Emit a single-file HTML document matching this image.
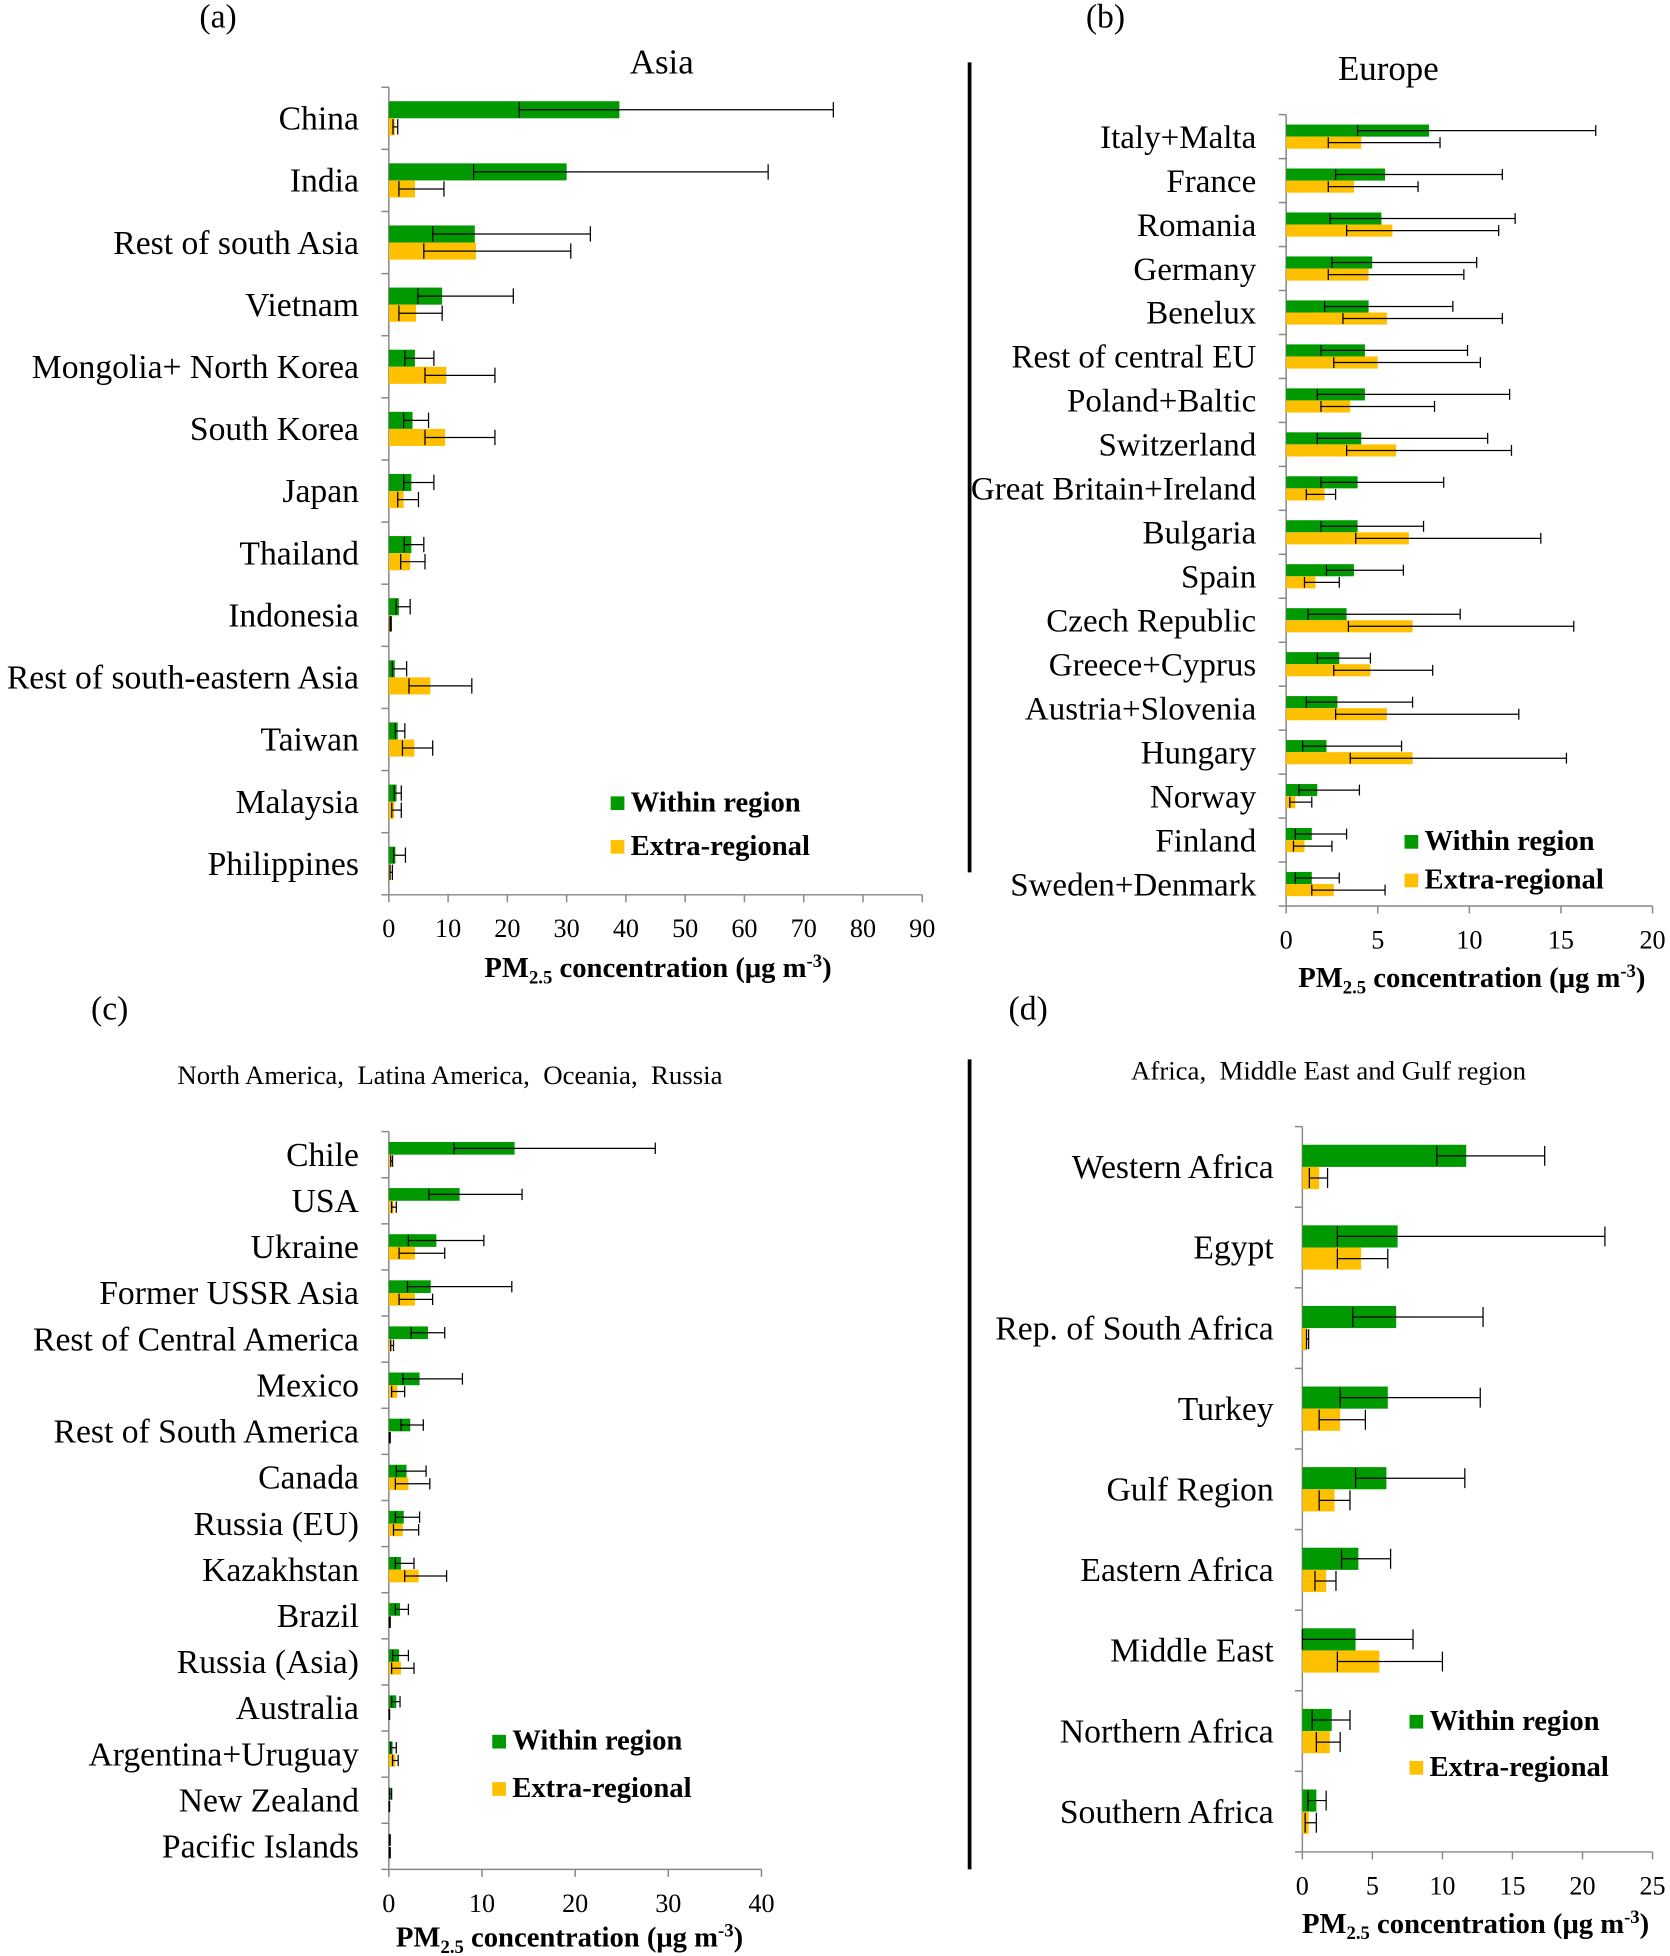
<!DOCTYPE html>
<html><head><meta charset="utf-8"><style>
html,body{margin:0;padding:0;background:#fff;}
svg{display:block;font-family:"Liberation Serif",serif;}
text{white-space:pre;}
</style></head><body>
<svg id="chart" width="1670" height="1956" viewBox="0 0 1340 1569.5" xmlns="http://www.w3.org/2000/svg"></svg>
<script>
// Panel (a) Asia
const asiaCats = ["China","India","Rest of south Asia","Vietnam","Mongolia+ North Korea","South Korea","Japan","Thailand","Indonesia","Rest of south-eastern Asia","Taiwan","Malaysia","Philippines"];
const asiaWithin = [38.9,30,14.5,9,4.4,4,3.8,3.8,1.7,1,1.5,1.3,1.1];
const asiaWithinLo = [22,14.3,7.4,4.9,2.7,2.5,2.5,2.6,1.2,0.6,1.1,0.9,0.8];
const asiaWithinHi = [75,64,34,21,7.6,6.7,7.6,5.9,3.6,3,2.7,2.1,2.8];
const asiaExtra = [1,4.4,14.7,4.6,9.7,9.5,2.5,3.6,0.3,7,4.3,0.9,0.3];
const asiaExtraLo = [0.7,1.7,5.9,1.7,6.1,6.1,1.5,2,0.2,3.4,2.3,0.5,0.2];
const asiaExtraHi = [1.5,9.3,30.7,9,17.9,17.9,5,6.1,0.4,14,7.4,2.1,0.6];
const asiaTicks = [0,10,20,30,40,50,60,70,80,90];
// Panel (b) Europe
const euCats = ["Italy+Malta","France","Romania","Germany","Benelux","Rest of central EU","Poland+Baltic","Switzerland","Great Britain+Ireland","Bulgaria","Spain","Czech Republic","Greece+Cyprus","Austria+Slovenia","Hungary","Norway","Finland","Sweden+Denmark"];
const euWithin = [7.8,5.4,5.2,4.7,4.5,4.3,4.3,4.1,3.9,3.9,3.7,3.3,2.9,2.8,2.2,1.7,1.4,1.4];
const euWithinLo = [3.9,2.7,2.4,2.5,2.1,1.9,1.7,1.7,1.9,1.9,2.2,1.2,1.7,1.1,0.9,0.7,0.5,0.5];
const euWithinHi = [16.9,11.8,12.5,10.4,9.1,9.9,12.2,11,8.6,7.5,6.4,9.5,4.6,6.9,6.3,4,3.3,2.9];
const euExtra = [4.1,3.7,5.8,4.5,5.5,5,3.5,6,2.1,6.7,1.6,6.9,4.6,5.5,6.9,0.5,1,2.6];
const euExtraLo = [2.3,2.3,3.3,2.3,3.1,2.6,1.9,3.3,1.1,3.8,1,3.4,2.6,2.7,3.5,0.2,0.4,1.4];
const euExtraHi = [8.4,7.2,11.6,9.7,11.8,10.6,8.1,12.3,2.7,13.9,2.9,15.7,8,12.7,15.3,1.4,2.5,5.4];
const euTicks = [0,5,10,15,20];
// Panel (c) Americas, Oceania, Russia
const amCats = ["Chile","USA","Ukraine","Former USSR Asia","Rest of Central America","Mexico","Rest of South America","Canada","Russia (EU)","Kazakhstan","Brazil","Russia (Asia)","Australia","Argentina+Uruguay","New Zealand","Pacific Islands"];
const amWithin = [13.5,7.6,5.1,4.5,4.2,3.3,2.3,1.9,1.6,1.3,1.2,1.1,0.8,0.4,0.2,0.1];
const amWithinLo = [7,4.3,2.1,2,2.4,1.5,1.3,0.8,0.7,0.7,0.7,0.4,0.3,0.2,0.1,0.05];
const amWithinHi = [28.6,14.3,10.2,13.2,6,7.9,3.7,4,3.3,2.7,2.1,2.1,1.2,0.8,0.3,0.15];
const amExtra = [0.3,0.5,2.8,2.8,0.3,0.9,0.1,2.1,1.5,3.2,0.1,1.3,0.05,0.7,0.05,0.1];
const amExtraLo = [0.2,0.3,1.1,1.1,0.2,0.3,0.05,0.7,0.5,1.7,0.05,0.3,0.03,0.4,0.03,0.05];
const amExtraHi = [0.4,0.8,6,4.7,0.5,1.7,0.15,4.4,3.2,6.2,0.15,2.7,0.08,1,0.08,0.15];
const amTicks = [0,10,20,30,40];
// Panel (d) Africa, Middle East, Gulf
const afCats = ["Western Africa","Egypt","Rep. of South Africa","Turkey","Gulf Region","Eastern Africa","Middle East","Northern Africa","Southern Africa"];
const afWithin = [11.7,6.8,6.7,6.1,6,4,3.8,2.1,1];
const afWithinLo = [9.6,2.5,3.6,2.7,3.8,2.8,0,0.7,0.4];
const afWithinHi = [17.3,21.6,12.9,12.7,11.6,6.3,7.9,3.4,1.7];
const afExtra = [1.2,4.2,0.35,2.7,2.3,1.7,5.5,1.96,0.45];
const afExtraLo = [0.5,2.5,0.3,1.2,1.2,0.9,2.5,1,0.2];
const afExtraHi = [1.8,6.1,0.45,4.5,3.4,2.4,10,2.7,1];
const afTicks = [0,5,10,15,20,25];

const NS="http://www.w3.org/2000/svg";
const svg=document.getElementById('chart');
const GREEN="#009900", YELLOW="#FFC000";
function mk(tag,attrs,parent){const e=document.createElementNS(NS,tag);for(const k in attrs)e.setAttribute(k,attrs[k]);(parent||svg).appendChild(e);return e;}
function txt(s,x,y,size,anchor,weight,parent){const t=mk('text',{x:x,y:y,'font-size':size,'text-anchor':anchor||'start','font-weight':weight||'normal',fill:'#000'},parent);t.textContent=s;return t;}

function panel(o){
  const g=mk('g',{});
  
  
  const xs=v=>o.x0+(v-o.ticks[0])/(o.ticks[o.ticks.length-1]-o.ticks[0])*(o.x1-o.x0);
  const n=o.cats.length, band=(o.yb-o.yt)/n, bh=band*0.275;
  const ya=mk('line',{x1:o.x0,x2:o.x0,y1:o.yt,y2:o.yb,stroke:'#888','stroke-width':1.2},g);
  
  
  for(let i=0;i<=n;i++){mk('line',{x1:o.x0-6,x2:o.x0,y1:o.yt+i*band,y2:o.yt+i*band,stroke:'#888','stroke-width':1.2},g);}
  const xa=mk('line',{x1:o.x0,x2:o.x1,y1:o.yb,y2:o.yb,stroke:'#888','stroke-width':1.2},g);
  
  
  o.ticks.forEach(t=>{
    mk('line',{x1:xs(t),x2:xs(t),y1:o.yb,y2:o.yb+6,stroke:'#888','stroke-width':1.2},g);
    const tl=txt(String(t),xs(t),o.yb+34,21,'middle','normal',g);
    
    
  });
  o.cats.forEach((c,i)=>{
    const cy=o.yt+(i+0.5)*band;
    const lab=txt(c,o.labelX,cy+9,o.labelSize||27,'end','normal',g);
    
    
    const series=[[o.w,o.wl,o.wh,GREEN,cy-bh],[o.e,o.el,o.eh,YELLOW,cy]];
    series.forEach((s,k)=>{
      const r=mk('rect',{x:o.x0,y:s[4],width:Math.max(0,xs(s[0][i])-o.x0),height:bh,fill:s[3]},g);
      
      
      const ey=s[4]+bh/2, a=xs(s[1][i]), b=xs(s[2][i]), cap=bh*0.45;
      const eb=mk('path',{d:`M${a},${ey}H${b}M${a},${ey-cap}V${ey+cap}M${b},${ey-cap}V${ey+cap}`,stroke:'#000','stroke-width':1,fill:'none'},g);
      
      
    });
  });
  const at=mk('text',{x:o.atx,y:o.aty,'font-size':23,'text-anchor':'middle','font-weight':'bold'},g);
  
  
  at.innerHTML='PM<tspan font-size="15" dy="5">2.5</tspan><tspan dy="-5"> concentration (μg m</tspan><tspan font-size="15" dy="-8">-3</tspan><tspan dy="8">)</tspan>';
  const lg=mk('g',{},g);
  
  
  [[GREEN,'Within region',o.ly1],[YELLOW,'Extra-regional',o.ly2]].forEach(L=>{
    const sw=mk('rect',{x:o.lx,y:L[2]-12,width:11,height:11,fill:L[0]},lg);
    
    
    const lt=txt(L[1],o.lx+16,L[2],23,'start','bold',lg);
    
    
  });
}

panel({name:'panel-a-asia',cats:asiaCats,w:asiaWithin,wl:asiaWithinLo,wh:asiaWithinHi,e:asiaExtra,el:asiaExtraLo,eh:asiaExtraHi,ticks:asiaTicks,
  x0:312,x1:740,yt:70,yb:718,labelX:288,atx:528,aty:784,lx:490,ly1:651,ly2:686});
panel({name:'panel-b-europe',cats:euCats,w:euWithin,wl:euWithinLo,wh:euWithinHi,e:euExtra,el:euExtraLo,eh:euExtraHi,ticks:euTicks,labelSize:26.5,
  x0:1032,x1:1326,yt:92,yb:727,labelX:1008,atx:1181,aty:792,lx:1127,ly1:682,ly2:713});
panel({name:'panel-c-americas',cats:amCats,w:amWithin,wl:amWithinLo,wh:amWithinHi,e:amExtra,el:amExtraLo,eh:amExtraHi,ticks:amTicks,
  x0:312,x1:611,yt:908,yb:1500,labelX:288,atx:457,aty:1562,lx:395,ly1:1404,ly2:1442});
panel({name:'panel-d-africa',cats:afCats,w:afWithin,wl:afWithinLo,wh:afWithinHi,e:afExtra,el:afExtraLo,eh:afExtraHi,ticks:afTicks,
  x0:1045,x1:1326,yt:904,yb:1486,labelX:1022,atx:1184,aty:1551,lx:1131,ly1:1388,ly2:1425});

[["(a)",175,22],["(b)",887,22],["(c)",88,818],["(d)",825,818]].forEach(p=>{
  const t=txt(p[0],p[1],p[2],27,'middle');
  
  
});
[["Asia",531,59,28],["Europe",1114,64,28],["North America,  Latina America,  Oceania,  Russia",361,870,21.5],["Africa,  Middle East and Gulf region",1066,866,21.5]].forEach(p=>{
  const t=txt(p[0],p[1],p[2],p[3],'middle');
  
  
});
[[50,700],[850,1500]].forEach(d=>{
  const l=mk('line',{x1:778,x2:778,y1:d[0],y2:d[1],stroke:'#000','stroke-width':3});
  
  
});
</script>
</body></html>
